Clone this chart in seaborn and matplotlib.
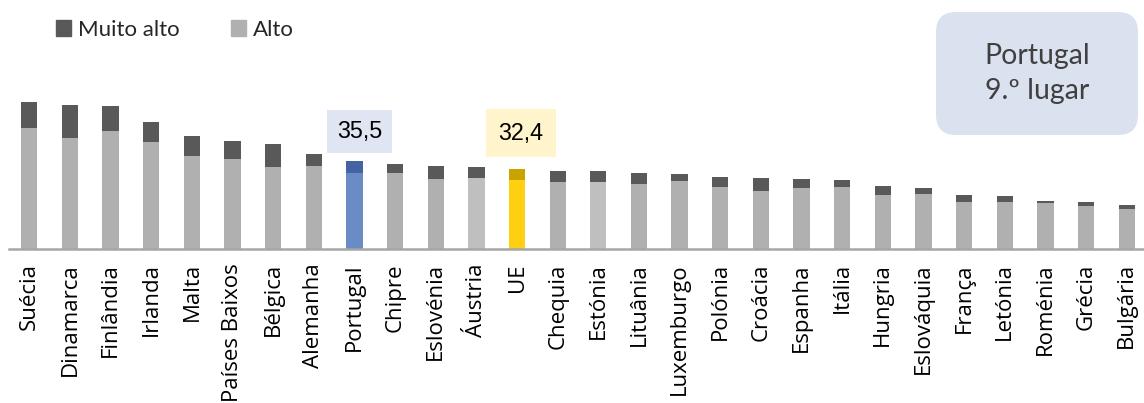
import numpy as np
import pandas as pd
import matplotlib
matplotlib.use("Agg")
import matplotlib.pyplot as plt
import seaborn as sns
from matplotlib.patches import Patch, FancyBboxPatch

paises = ["Suécia", "Dinamarca", "Finlândia", "Irlanda", "Malta", "Países Baixos",
          "Bélgica", "Alemanha", "Portugal", "Chipre", "Eslovénia", "Áustria", "UE",
          "Chequia", "Estónia", "Lituânia", "Luxemburgo", "Polónia", "Croácia",
          "Espanha", "Itália", "Hungria", "Eslováquia", "França", "Letónia",
          "Roménia", "Grécia", "Bulgária"]
alto = [48.8, 44.8, 47.5, 43.2, 37.5, 36.3, 33.1, 33.5, 30.7, 30.7, 28.2, 28.7, 27.9,
        27.2, 27.2, 26.4, 27.6, 25.2, 23.6, 24.7, 25.1, 21.9, 22.1, 19.2, 18.9,
        18.5, 17.4, 16.3]
muito_alto = [10.6, 13.4, 10.2, 7.9, 8.0, 7.2, 9.2, 4.7, 4.8, 3.6, 5.2, 4.5, 4.5,
              4.3, 4.3, 4.2, 2.7, 3.8, 5.2, 3.6, 2.8, 3.5, 2.7, 2.7, 2.7,
              0.9, 1.6, 1.5]
valor_pt = "35,5"
valor_ue = "32,4"

df = pd.DataFrame({"pais": paises, "alto": alto, "muito_alto": muito_alto})
df["total"] = df["alto"] + df["muito_alto"]

# cores por barra
cor_alto, cor_muito = [], []
for p in paises:
    if p == "Portugal":
        cor_alto.append("#6a8bc3"); cor_muito.append("#4363a3")
    elif p == "UE":
        cor_alto.append("#ffd012"); cor_muito.append("#c9a300")
    elif p in ("Áustria", "Estónia"):
        cor_alto.append("#bfbfbf"); cor_muito.append("#595959")
    else:
        cor_alto.append("#b0b0b0"); cor_muito.append("#595959")

sns.set_style("white")
plt.rcParams["font.family"] = ["Open Sans", "DejaVu Sans"]

fig = plt.figure(figsize=(11.44, 4.03), dpi=100)
ax = fig.add_axes([9 / 1144, 1 - 249.3 / 403, 1138 / 1144, 209.3 / 403])

sns.barplot(data=df, x="pais", y="total", hue="pais", palette=cor_muito, saturation=1,
            width=0.4, linewidth=0, legend=False, ax=ax)
sns.barplot(data=df, x="pais", y="alto", hue="pais", palette=cor_alto, saturation=1,
            width=0.4, linewidth=0, legend=False, ax=ax)

ax.set_xlim(-0.5, len(paises) - 0.5)
ax.set_ylim(0, 209.3 / 2.485)
ax.set_xlabel("")
ax.set_ylabel("")
ax.set_yticks([])
for s in ["top", "right", "left"]:
    ax.spines[s].set_visible(False)
ax.spines["bottom"].set_color("#a6a6a6")
ax.spines["bottom"].set_linewidth(1.8)
ax.tick_params(axis="x", length=0, pad=10, labelcolor="black")
for lbl in ax.get_xticklabels():
    lbl.set_rotation(90)
    lbl.set_fontsize(16)
    lbl.set_family(["Open Sans", "DejaVu Sans"])

# caixas de valor
i_pt = paises.index("Portugal")
i_ue = paises.index("UE")
ax.text(i_pt + 0.12, 47.3, valor_pt, ha="center", va="center", fontsize=16.8,
        family="Liberation Sans", color="black",
        bbox=dict(boxstyle="square,pad=0.42", fc="#dfe5f2", ec="none"))
ax.text(i_ue + 0.1, 46.8, valor_ue, ha="center", va="center", fontsize=16.8,
        family="Liberation Sans", color="black",
        bbox=dict(boxstyle="square,pad=0.55", fc="#fff4cc", ec="none"))

# legenda
handles = [Patch(color="#595959", label="Muito alto"), Patch(color="#b0b0b0", label="Alto")]
fig.legend(handles=handles, loc="upper left", bbox_to_anchor=(47 / 1144, 1 - 11 / 403),
           ncol=2, frameon=False, handlelength=0.7, handleheight=0.7,
           handletextpad=0.3, columnspacing=2.3, borderaxespad=0,
           prop={"family": "Lato", "size": 16})

# caixa Portugal
caixa = FancyBboxPatch((9.36, (403 - 135) / 100), 2.02, 1.23,
                       boxstyle="round,pad=0,rounding_size=0.2",
                       transform=fig.dpi_scale_trans, fc="#dbe2ef", ec="none")
fig.patches.append(caixa)
fig.text(1037 / 1144, 1 - 73.5 / 403, "Portugal\n9.º lugar", ha="center", va="center",
         fontsize=20.5, family="Lato", color="#404040", linespacing=1.45)

fig.savefig("out.png", dpi=100)
